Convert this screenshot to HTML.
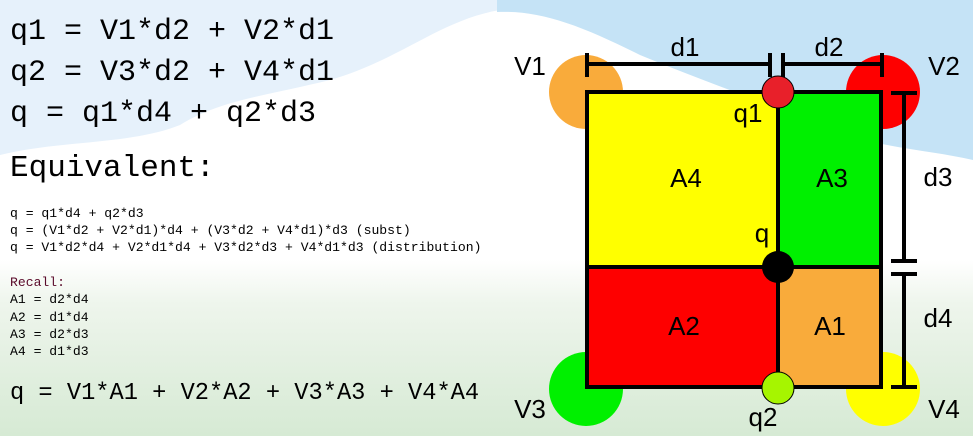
<!DOCTYPE html>
<html><head><meta charset="utf-8"><style>
body{margin:0;width:973px;height:436px;overflow:hidden;position:relative;background:#fff}
svg{position:absolute;left:0;top:0}
.m{position:absolute;left:10px;font-family:"Liberation Mono",monospace;color:#000;white-space:pre;margin:0}
</style></head><body>
<svg width="973" height="436">
<defs>
<linearGradient id="g" x1="0" y1="0" x2="0" y2="1">
<stop offset="0" stop-color="#fff"/><stop offset="0.25" stop-color="#eef5ec"/><stop offset="1" stop-color="#d6ead4"/></linearGradient>
</defs>
<rect x="0" y="0" width="500" height="436" fill="#fff"/>
<path d="M0 0H500V10C440 20 400 60 330 80C270 95 220 100 180 125C130 145 60 140 0 155Z" fill="#e6f1fb"/>
<rect x="497" y="0" width="476" height="436" fill="#fff"/>
<path d="M497 0H973V160C930 150 880 148 830 130C760 100 700 80 640 55C580 25 540 10 497 12Z" fill="#c5e3f6"/>
<rect x="0" y="260" width="973" height="176" fill="url(#g)"/>
<g font-family="Liberation Sans,Arial,sans-serif" font-size="26" fill="#000">
<circle cx="586" cy="92" r="37" fill="#f9ab3b"/>
<circle cx="883" cy="92" r="37" fill="#fe0000"/>
<circle cx="586" cy="389" r="37" fill="#00f000"/>
<circle cx="883" cy="389" r="37" fill="#ffff00"/>
<rect x="587" y="90" width="191" height="177" fill="#ffff00"/>
<rect x="778" y="90" width="105" height="177" fill="#00f000"/>
<rect x="587" y="267" width="191" height="121" fill="#fe0000"/>
<rect x="778" y="267" width="105" height="121" fill="#f9ab3b"/>
<rect x="587" y="92" width="294" height="295" fill="none" stroke="#000" stroke-width="4"/>
<line x1="778" y1="90" x2="778" y2="388" stroke="#000" stroke-width="4"/>
<line x1="587" y1="267" x2="883" y2="267" stroke="#000" stroke-width="4"/>
<circle cx="778" cy="92" r="16" fill="#e8202a" stroke="#000" stroke-width="1"/>
<circle cx="778" cy="267" r="16" fill="#000"/>
<circle cx="778" cy="388" r="16" fill="#a6f500" stroke="#000" stroke-width="1"/>
<g stroke="#000" stroke-width="4">
<line x1="587" y1="64" x2="770" y2="64"/><line x1="587" y1="53" x2="587" y2="77"/><line x1="770" y1="53" x2="770" y2="77"/>
<line x1="783" y1="64" x2="882" y2="64"/><line x1="783" y1="53" x2="783" y2="77"/><line x1="882" y1="53" x2="882" y2="77"/>
<line x1="904" y1="93" x2="904" y2="261"/><line x1="891" y1="93" x2="917" y2="93"/><line x1="891" y1="261" x2="917" y2="261"/>
<line x1="904" y1="274" x2="904" y2="387"/><line x1="891" y1="274" x2="917" y2="274"/><line x1="891" y1="387" x2="917" y2="387"/>
</g>
<text x="685" y="56" text-anchor="middle">d1</text>
<text x="829" y="56" text-anchor="middle">d2</text>
<text x="938" y="186" text-anchor="middle">d3</text>
<text x="938" y="327" text-anchor="middle">d4</text>
<text x="530" y="75" text-anchor="middle">V1</text>
<text x="944" y="75" text-anchor="middle">V2</text>
<text x="530" y="418" text-anchor="middle">V3</text>
<text x="944" y="418" text-anchor="middle">V4</text>
<text x="748" y="122" text-anchor="middle">q1</text>
<text x="762" y="242" text-anchor="middle">q</text>
<text x="763" y="426" text-anchor="middle">q2</text>
<text x="686" y="187" text-anchor="middle">A4</text>
<text x="832" y="187" text-anchor="middle">A3</text>
<text x="684" y="335" text-anchor="middle">A2</text>
<text x="830" y="335" text-anchor="middle">A1</text>
</g>
</svg>
<div class="m" style="top:12px;font-size:30px;line-height:41px">q1 = V1*d2 + V2*d1
q2 = V3*d2 + V4*d1
q = q1*d4 + q2*d3</div>
<div class="m" style="top:151px;font-size:31px;line-height:36px">Equivalent:</div>
<div class="m" style="top:205px;font-size:13.1px;line-height:17px">q = q1*d4 + q2*d3
q = (V1*d2 + V2*d1)*d4 + (V3*d2 + V4*d1)*d3 (subst)
q = V1*d2*d4 + V2*d1*d4 + V3*d2*d3 + V4*d1*d3 (distribution)</div>
<div class="m" style="top:274px;font-size:13.1px;line-height:17.3px"><span style="color:#5a0a2a">Recall:</span>
A1 = d2*d4
A2 = d1*d4
A3 = d2*d3
A4 = d1*d3</div>
<div class="m" style="top:378px;font-size:23.7px;line-height:32px">q = V1*A1 + V2*A2 + V3*A3 + V4*A4</div>
</body></html>
